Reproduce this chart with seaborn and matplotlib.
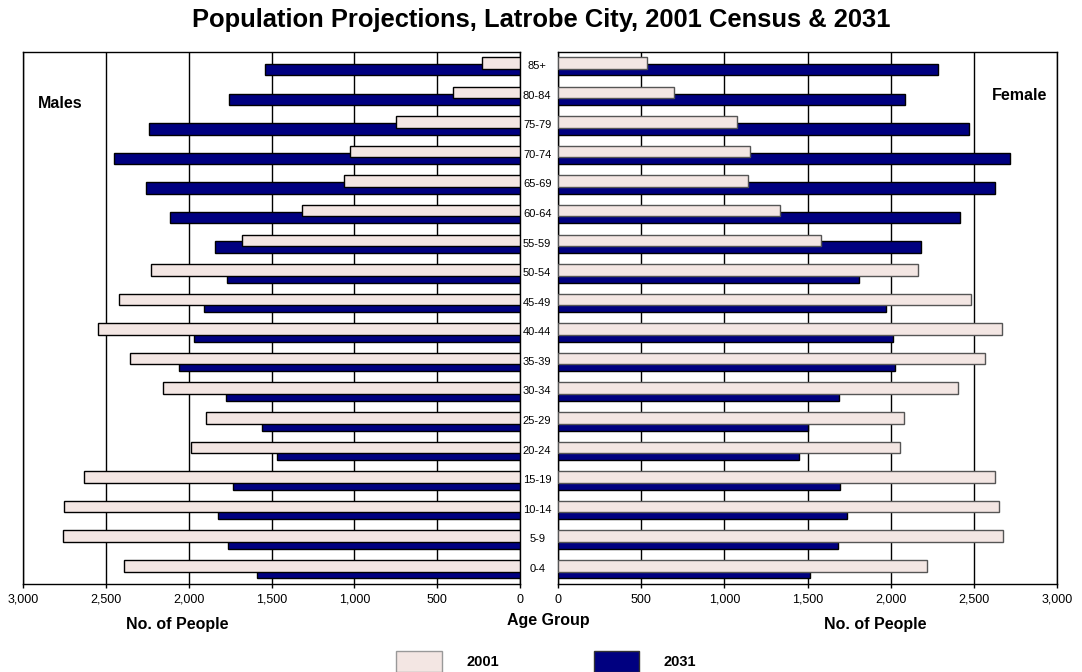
import numpy as np
import pandas as pd
import matplotlib
matplotlib.use("Agg")
import matplotlib.pyplot as plt
from matplotlib.patches import Patch
from matplotlib.ticker import FuncFormatter
import seaborn as sns

## Données (du haut vers le bas)

ages = ["85+", "80-84", "75-79", "70-74", "65-69", "60-64", "55-59", "50-54", "45-49",
        "40-44", "35-39", "30-34", "25-29", "20-24", "15-19", "10-14", "5-9", "0-4"]

male_2001 = [230, 405, 750, 1025, 1060, 1315, 1680, 2230, 2420,
             2550, 2355, 2155, 1895, 1985, 2630, 2750, 2760, 2390]
male_2031 = [1540, 1755, 2240, 2450, 2260, 2115, 1840, 1770, 1910,
             1965, 2060, 1775, 1555, 1465, 1730, 1825, 1760, 1585]
female_2001 = [535, 695, 1075, 1155, 1145, 1335, 1580, 2165, 2480,
               2670, 2565, 2405, 2080, 2055, 2625, 2650, 2675, 2220]
female_2031 = [2285, 2085, 2470, 2720, 2625, 2415, 2185, 1810, 1970,
               2015, 2025, 1690, 1500, 1450, 1695, 1735, 1685, 1515]

ticks = [0, 500, 1000, 1500, 2000, 2500, 3000]

c2001 = "#f3e6e3"
c2031 = "#000080"

# Table longue pour seaborn
pos = np.arange(len(ages))[::-1]
df = pd.concat([
    pd.DataFrame({"Age": ages, "pos": pos + 0.075, "Année": "2001",
                  "Males": male_2001, "Female": female_2001}),
    pd.DataFrame({"Age": ages, "pos": pos - 0.16, "Année": "2031",
                  "Males": male_2031, "Female": female_2031}),
])

sns.set_style("white")
plt.rcParams["font.family"] = ["Liberation Sans", "DejaVu Sans"]
plt.rcParams["text.color"] = "black"
plt.rcParams["xtick.color"] = "black"
plt.rcParams["ytick.color"] = "black"

fig = plt.figure(figsize=(10.82, 6.72), dpi=100)
ax_l = fig.add_axes([23 / 1082, 0.131, 497 / 1082, 0.7917])
ax_r = fig.add_axes([558 / 1082, 0.131, 499 / 1082, 0.7917])

fmt = FuncFormatter(lambda v, p: f"{int(v):,}")

for ax, col, bord in [(ax_l, "Males", "black"), (ax_r, "Female", "#555555")]:
    # 2031 dessiné d'abord, 2001 par-dessus
    for annee, couleur, ec in [("2031", c2031, "black"), ("2001", c2001, bord)]:
        sub = df[df["Année"] == annee]
        sns.barplot(data=sub, x=col, y="pos", orient="y", native_scale=True,
                    width=0.39, color=couleur, edgecolor=ec, linewidth=1,
                    errorbar=None, saturation=1, ax=ax, zorder=3)
    ax.set_xlim(0, 3000)
    ax.set_ylim(-0.54, 17.44)
    ax.set_xticks(ticks)
    ax.xaxis.set_major_formatter(fmt)
    ax.grid(axis="x", color="black", linewidth=1)
    ax.grid(axis="y", visible=False)
    ax.set_axisbelow(True)
    ax.set_xlabel("")
    ax.set_ylabel("")
    ax.tick_params(axis="x", bottom=True, length=3, width=1, pad=4,
                   labelsize=9, color="black")
    for s in ax.spines.values():
        s.set_color("black")
        s.set_linewidth(1)

ax_l.invert_xaxis()
ax_l.set_yticks([])

ax_r.set_yticks(pos, labels=ages)
ax_r.tick_params(axis="y", length=0, pad=15, labelsize=8)
for lbl in ax_r.get_yticklabels():
    lbl.set_ha("center")

fig.text(0.5, 1 - 20 / 672, "Population Projections, Latrobe City, 2001 Census & 2031",
         ha="center", va="center", fontsize=18.4, fontweight="bold")
fig.text(60 / 1082, 1 - 103 / 672, "Males", ha="center", va="center",
         fontsize=11.5, fontweight="bold")
fig.text(1020 / 1082, 1 - 95 / 672, "Female", ha="center", va="center",
         fontsize=11.5, fontweight="bold")
fig.text(177 / 1082, 1 - 625 / 672, "No. of People", ha="center", va="center",
         fontsize=11.5, fontweight="bold")
fig.text(875 / 1082, 1 - 625 / 672, "No. of People", ha="center", va="center",
         fontsize=11.5, fontweight="bold")
fig.text(548 / 1082, 1 - 620 / 672, "Age Group", ha="center", va="center",
         fontsize=11.5, fontweight="bold")

handles = [Patch(facecolor=c2001, edgecolor="#999999", label="2001"),
           Patch(facecolor=c2031, edgecolor="#333333", label="2031")]
leg = fig.legend(handles=handles, loc="center", bbox_to_anchor=(0.505, 0.016),
                 ncol=2, frameon=False, handlelength=3.1, handleheight=1.8,
                 handletextpad=1.7, columnspacing=6.5,
                 prop={"size": 10.5, "weight": "bold"})

fig.savefig("out.png", dpi=100)
